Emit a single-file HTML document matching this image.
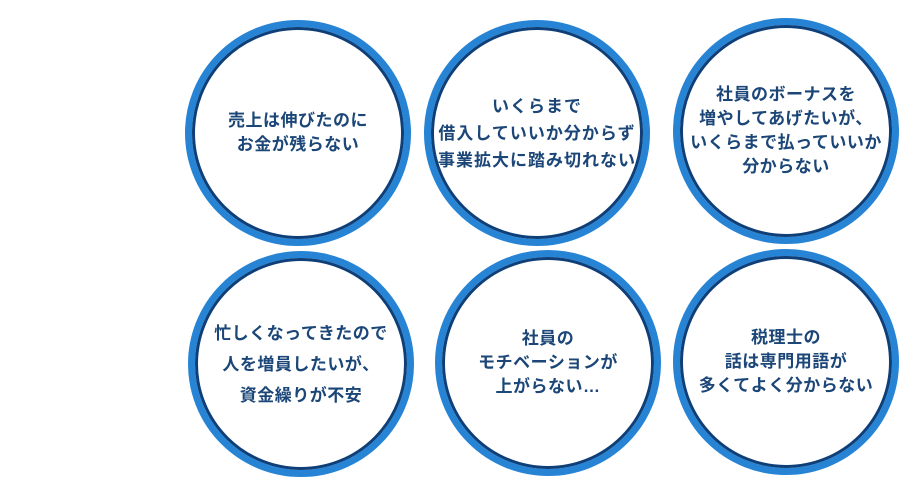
<!DOCTYPE html>
<html><head><meta charset="utf-8"><style>
body{margin:0;width:908px;height:498px;background:#fff;position:relative;overflow:hidden;font-family:"Liberation Sans","Noto Sans CJK JP",sans-serif}
.c{position:absolute;width:226px;height:226px;border-radius:50%;box-sizing:border-box;border:7px solid #2784d4;display:flex;align-items:center;justify-content:center;text-align:center}
.c::before{content:"";position:absolute;inset:0;border-radius:50%;border:3px solid #0e3f78}
.t{color:#1b4677;font-size:17px;font-weight:bold;line-height:24px;white-space:nowrap;letter-spacing:0.5px}
</style></head><body>
<div class="c" style="left:185px;top:20px"><div class="t">売上は伸びたのに<br>お金が残らない</div></div>
<div class="c" style="left:424px;top:20px"><div class="t" style="line-height:27px;letter-spacing:1px">いくらまで<br>借入していいか分からず<br>事業拡大に踏み切れない</div></div>
<div class="c" style="left:673px;top:18px"><div class="t">社員のボーナスを<br>増やしてあげたいが、<br>いくらまで払っていいか<br>分からない</div></div>
<div class="c" style="left:188px;top:251px"><div class="t" style="line-height:31px">忙しくなってきたので<br>人を増員したいが、<br>資金繰りが不安</div></div>
<div class="c" style="left:435px;top:250px"><div class="t">社員の<br>モチベーションが<br>上がらない…</div></div>
<div class="c" style="left:673px;top:249px"><div class="t">税理士の<br>話は専門用語が<br>多くてよく分からない</div></div>
</body></html>
